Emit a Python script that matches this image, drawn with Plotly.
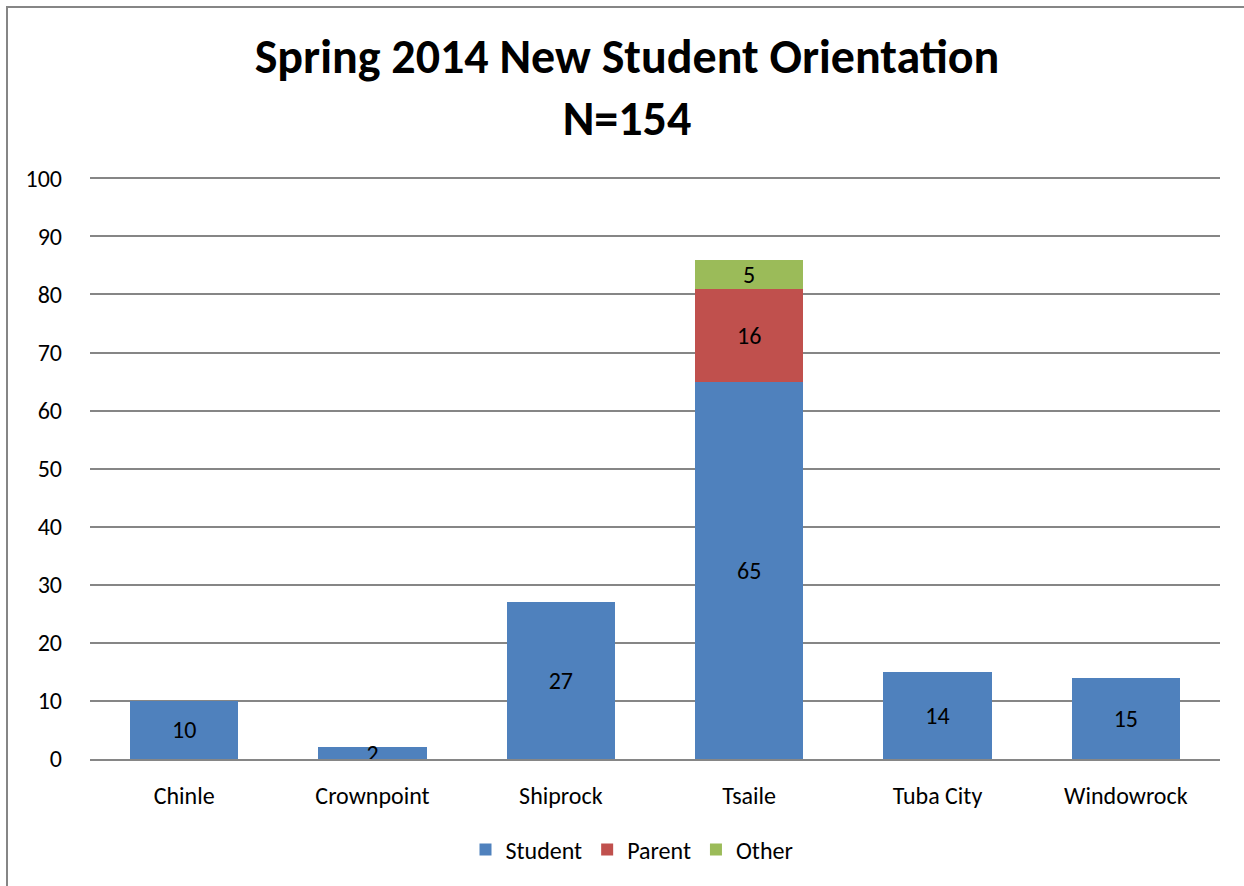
import plotly.graph_objects as go

# Data
campuses = ["Chinle", "Crownpoint", "Shiprock", "Tsaile", "Tuba City", "Windowrock"]
student = [10, 2, 27, 65, 15, 14]
parent = [0, 0, 0, 16, 0, 0]
other = [0, 0, 0, 5, 0, 0]

# Data labels as printed on the original (Tuba City / Windowrock labels are swapped there)
student_labels = ["10", "2", "27", "65", "14", "15"]
parent_labels = ["", "", "", "16", "", ""]
other_labels = ["", "", "", "5", "", ""]

series = [
    ("Student", student, student_labels, "#4F81BD"),
    ("Parent", parent, parent_labels, "#C0504D"),
    ("Other", other, other_labels, "#9BBB59"),
]

FONT = "Carlito, Lato, sans-serif"
GRID = "#868686"

fig = go.Figure()
for name, vals, labels, color in series:
    fig.add_trace(go.Bar(
        name=name, x=campuses, y=vals,
        text=labels, textposition="inside", insidetextanchor="middle",
        constraintext="none", textangle=0,
        textfont=dict(family=FONT, size=24, color="black"),
        marker=dict(color=color, line=dict(width=0)),
        hoverinfo="skip",
    ))

fig.update_layout(
    barmode="stack",
    bargap=0.425,
    width=1244, height=886,
    margin=dict(l=90, r=24, t=176, b=127),
    paper_bgcolor="white", plot_bgcolor="white",
    font=dict(family=FONT, size=24, color="black"),
    title=dict(
        text="<b>Spring 2014 New Student Orientation<br>N=154</b>",
        font=dict(family=FONT, size=48, color="black"),
        x=(627 - 90) / 1130, xref="paper", xanchor="center",
        y=1 - 73 / 886, yref="container", yanchor="top",
    ),
    legend=dict(
        orientation="h", x=(632 - 90) / 1130, xanchor="center",
        y=(759 - 850) / 583, yanchor="middle",
        font=dict(family=FONT, size=24), itemwidth=30, traceorder="normal",
    ),
    shapes=[dict(
        type="rect", xref="paper", yref="paper",
        x0=(7 - 90) / 1130, x1=1.1, y0=-0.5, y1=1 + (176 - 7) / 583,
        line=dict(color=GRID, width=2), layer="below",
    )],
)

fig.update_yaxes(
    range=[0, 100.4], dtick=10, showgrid=True, gridcolor=GRID, gridwidth=1.5,
    zeroline=False, showline=False, ticks="", ticklabelstandoff=27,
    tickfont=dict(family=FONT, size=24),
)
fig.update_xaxes(
    showline=True, linecolor=GRID, linewidth=1.5, ticks="",
    ticklabelstandoff=14, tickfont=dict(family=FONT, size=24),
)

fig.write_html("out.html", config={"displayModeBar": False},
               post_script="document.body.style.margin='0';")
